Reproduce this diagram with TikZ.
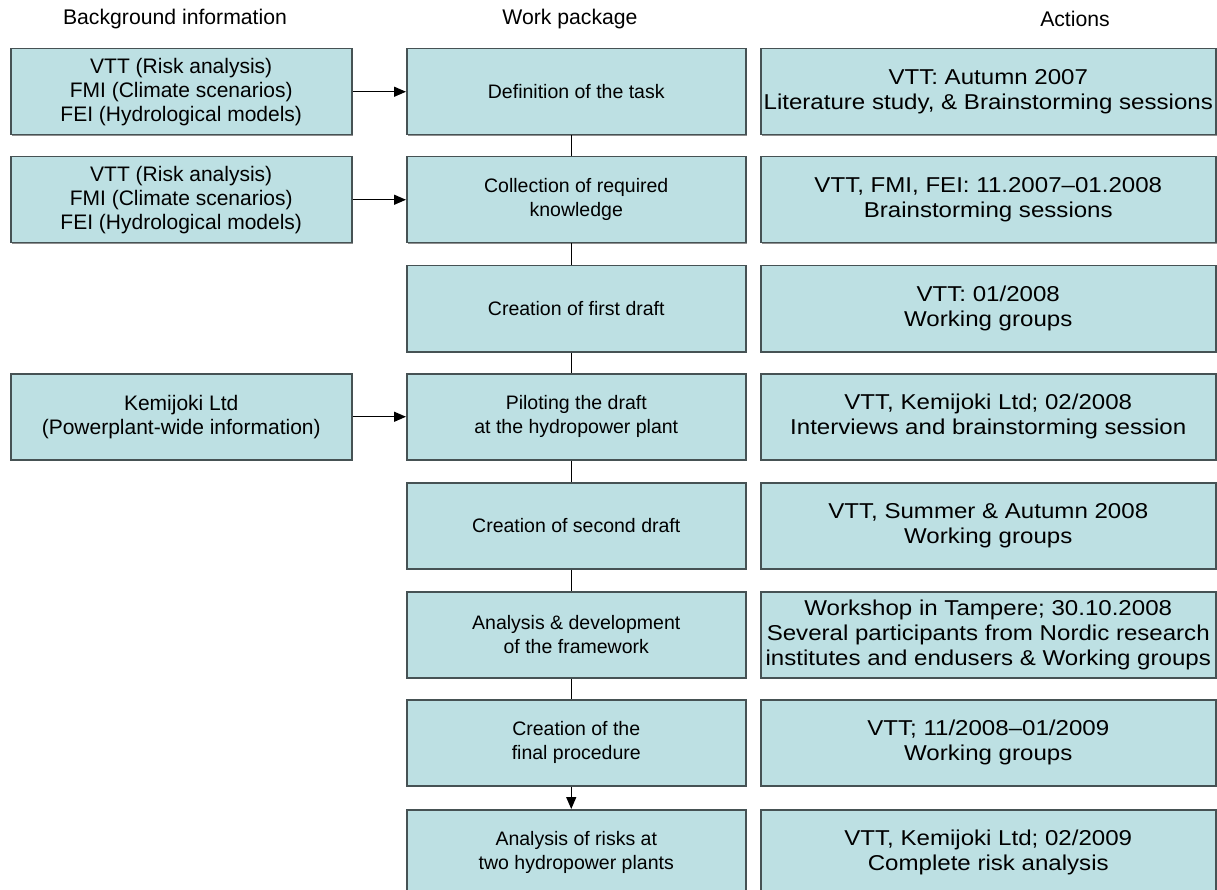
\documentclass[tikz,border=0pt]{standalone}
\usepackage{fontspec}
\setmainfont{Liberation Sans}
\newfontfamily\widefont[FakeStretch=1.12,Ligatures=TeX]{Liberation Sans}
\usetikzlibrary{arrows.meta,shadows}
\definecolor{boxfill}{RGB}{189,224,227}
\definecolor{boxline}{RGB}{70,82,84}
\begin{document}
\begin{tikzpicture}[x=1pt,y=-1pt,
  box/.style={draw=boxline, line width=1.5pt, fill=boxfill, anchor=north west,
    minimum height=86pt, inner sep=0pt, align=center,
    drop shadow={shadow xshift=1pt, shadow yshift=-1.2pt, fill=black!55, opacity=0.8}},
  lbox/.style={box, minimum width=341pt, font=\fontsize{21}{24}\selectfont},
  mbox/.style={box, minimum width=339pt, font=\fontsize{19.5}{24}\selectfont},
  rbox/.style={box, minimum width=455pt, font=\widefont\fontsize{21.5}{25}\selectfont,
    execute at begin node={\rule{0pt}{21.5pt}}},
  hdr/.style={font=\fontsize{21.2}{24}\selectfont, anchor=center},
  link/.style={line width=1.4pt, black},
  arr/.style={link, -{Triangle[length=12pt,width=10pt]}}]
\useasboundingbox (0,0) rectangle (1217,890);
\begin{scope}
\clip (0,0) rectangle (1217,890);
% headers
\node[hdr] (h1) at (175,19) {Background information};
\node[hdr] (h2) at (570,19) {Work package};
\node[hdr] (h3) at (1075,19) {Actions};
% left column
\node[lbox] (l1) at (10,48) {VTT (Risk analysis)\\FMI (Climate scenarios)\\FEI (Hydrological models)};
\node[lbox] (l2) at (10,156) {VTT (Risk analysis)\\FMI (Climate scenarios)\\FEI (Hydrological models)};
\node[lbox] (l4) at (10,373) {Kemijoki Ltd\\(Powerplant-wide information)};
% middle column
\node[mbox] (m1) at (406,48) {Definition of the task};
\node[mbox] (m2) at (406,156) {Collection of required\\knowledge};
\node[mbox] (m3) at (406,265) {Creation of first draft};
\node[mbox] (m4) at (406,373) {Piloting the draft\\at the hydropower plant};
\node[mbox] (m5) at (406,482) {Creation of second draft};
\node[mbox] (m6) at (406,591) {Analysis \& development\\of the framework};
\node[mbox] (m7) at (406,699) {Creation of the\\final procedure};
\node[mbox] (m8) at (406,809) {Analysis of risks at\\two hydropower plants};
% right column
\node[rbox] (r1) at (760,48) {VTT: Autumn 2007\\Literature study, \& Brainstorming sessions};
\node[rbox] (r2) at (760,156) {VTT, FMI, FEI: 11.2007–01.2008\\Brainstorming sessions};
\node[rbox] (r3) at (760,265) {VTT: 01/2008\\Working groups};
\node[rbox] (r4) at (760,373) {VTT, Kemijoki Ltd; 02/2008\\Interviews and brainstorming session};
\node[rbox] (r5) at (760,482) {VTT, Summer \& Autumn 2008\\Working groups};
\node[rbox] (r6) at (760,591) {Workshop in Tampere; 30.10.2008\\Several participants from Nordic research\\institutes and endusers \& Working groups};
\node[rbox] (r7) at (760,699) {VTT; 11/2008–01/2009\\Working groups};
\node[rbox] (r8) at (760,809) {VTT, Kemijoki Ltd; 02/2009\\Complete risk analysis};
% connectors
\draw[arr] (l1.east) -- (m1.west);
\draw[arr] (l2.east) -- (m2.west);
\draw[arr] (l4.east) -- (m4.west);
\foreach \a/\b in {m1/m2,m2/m3,m3/m4,m4/m5,m5/m6,m6/m7}
  \draw[link] ([xshift=-5pt]\a.south) -- ([xshift=-5pt]\b.north);
\draw[arr] ([xshift=-5pt]m7.south) -- ([xshift=-5pt]m8.north);
\end{scope}
\end{tikzpicture}
\end{document}
